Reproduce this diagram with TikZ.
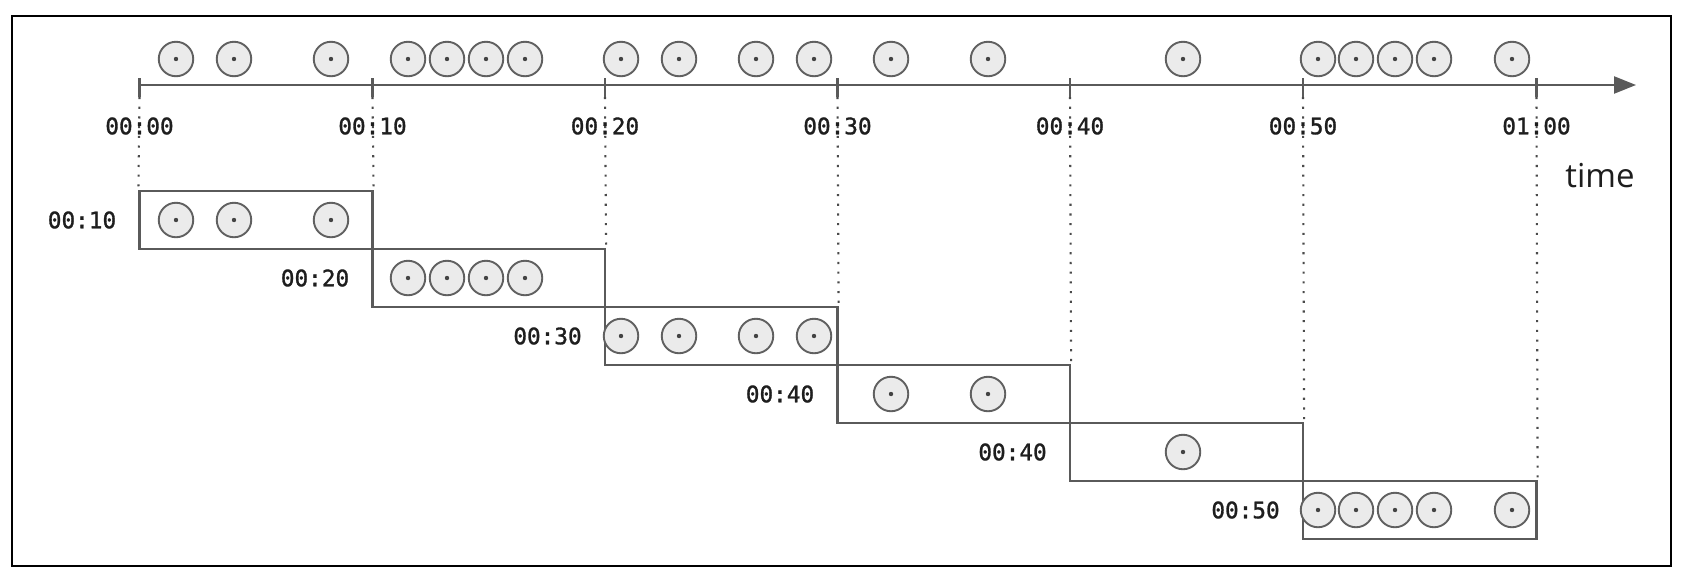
\documentclass[tikz,border=0pt]{standalone}
\usepackage{fontspec}
\usetikzlibrary{arrows.meta}
\newfontfamily\monof[FakeBold=1.3]{DejaVu Sans Mono}
\newfontfamily\labf{Open Sans}
\definecolor{lnc}{HTML}{5A5A5A}
\definecolor{dotc}{HTML}{4A4A4A}
\definecolor{evfill}{HTML}{EBEBEB}
\definecolor{evline}{HTML}{606060}
\definecolor{txc}{HTML}{1E1E1E}
\tikzset{
  axl/.style={lnc,line width=2.4pt},
  win/.style={draw=lnc,line width=2.2pt,rectangle,inner sep=0pt,minimum height=58pt},
  ev/.style={circle,draw=evline,fill=evfill,line width=1.9pt,minimum size=34.5pt,inner sep=0pt},
  dotl/.style={dotc,line width=2.1pt,dash pattern=on 2.1pt off 7.6pt},
  tlab/.style={text=txc,font=\monof\fontsize{22.7}{26}\selectfont,inner sep=0pt},
  timel/.style={text=txc,font=\labf\fontsize{33}{38}\selectfont,inner sep=0pt}
}
\begin{document}
\begin{tikzpicture}[x=1pt,y=-1pt]
\useasboundingbox (0,0) rectangle (1684,574);
\fill[white] (0,0) rectangle (1684,574);
\draw[black,line width=2pt] (11.5,16) rectangle (1671,566);

% tick coordinates
\foreach \i/\x in {0/139.5,1/372.5,2/605,3/837.5,4/1070,5/1303,6/1536.5}
  \coordinate (k\i) at (\x,85);
\coordinate (tip) at (1636,85);

% axis
\draw[axl,-{Triangle[length=22pt,width=17pt]}] (k0) -- (tip);
\foreach \i in {0,...,6}
  \draw[axl] ([yshift=7pt]k\i) -- ([yshift=-12pt]k\i);

% tick labels
\node[tlab] (l0) at ([yshift=-41pt]k0) {00:00};
\node[tlab] (l1) at ([yshift=-41pt]k1) {00:10};
\node[tlab] (l2) at ([yshift=-41pt]k2) {00:20};
\node[tlab] (l3) at ([yshift=-41pt]k3) {00:30};
\node[tlab] (l4) at ([yshift=-41pt]k4) {00:40};
\node[tlab] (l5) at ([yshift=-41pt]k5) {00:50};
\node[tlab] (l6) at ([yshift=-41pt]k6) {01:00};

\node[timel] (tm) at (1600,176) {time};

% windows
\node[win,minimum width=233pt]   (w1) at (256,220) {};
\node[win,minimum width=232.5pt] (w2) at (488.75,278) {};
\node[win,minimum width=232.5pt] (w3) at (721.25,336) {};
\node[win,minimum width=232.5pt] (w4) at (953.75,394) {};
\node[win,minimum width=233pt]   (w5) at (1186.5,452) {};
\node[win,minimum width=233.5pt] (w6) at (1419.75,510) {};

% dotted guides
\draw[dotl] ([yshift=-12pt]k0) -- (w1.north west);
\draw[dotl] ([yshift=-12pt]k1) -- (w1.north east);
\draw[dotl] ([yshift=-12pt]k2) -- (w2.north east);
\draw[dotl] ([yshift=-12pt]k3) -- (w3.north east);
\draw[dotl] ([yshift=-12pt]k4) -- (w4.north east);
\draw[dotl] ([yshift=-12pt]k5) -- (w5.north east);
\draw[dotl] ([yshift=-12pt]k6) -- (w6.north east);

% window labels
\node[tlab,anchor=east] (n1) at ([xshift=-22pt]w1.west) {00:10};
\node[tlab,anchor=east] (n2) at ([xshift=-22pt]w2.west) {00:20};
\node[tlab,anchor=east] (n3) at ([xshift=-22pt]w3.west) {00:30};
\node[tlab,anchor=east] (n4) at ([xshift=-22pt]w4.west) {00:40};
\node[tlab,anchor=east] (n5) at ([xshift=-22pt]w5.west) {00:40};
\node[tlab,anchor=east] (n6) at ([xshift=-22pt]w6.west) {00:50};

% events on the axis and in windows
\foreach \x/\y [count=\i] in {176/220,234/220,331/220,
  408/278,447/278,486/278,525/278,
  621/336,679/336,756/336,814/336,
  891/394,988/394,
  1183/452,
  1318/510,1356/510,1395/510,1434/510,1512/510}{
  \node[ev] (e\i) at (\x,59) {};
  \fill[evline!70!black] (e\i.center) circle (2.2pt);
  \node[ev] (b\i) at (\x,\y) {};
  \fill[evline!70!black] (b\i.center) circle (2.2pt);
}
\end{tikzpicture}
\end{document}
